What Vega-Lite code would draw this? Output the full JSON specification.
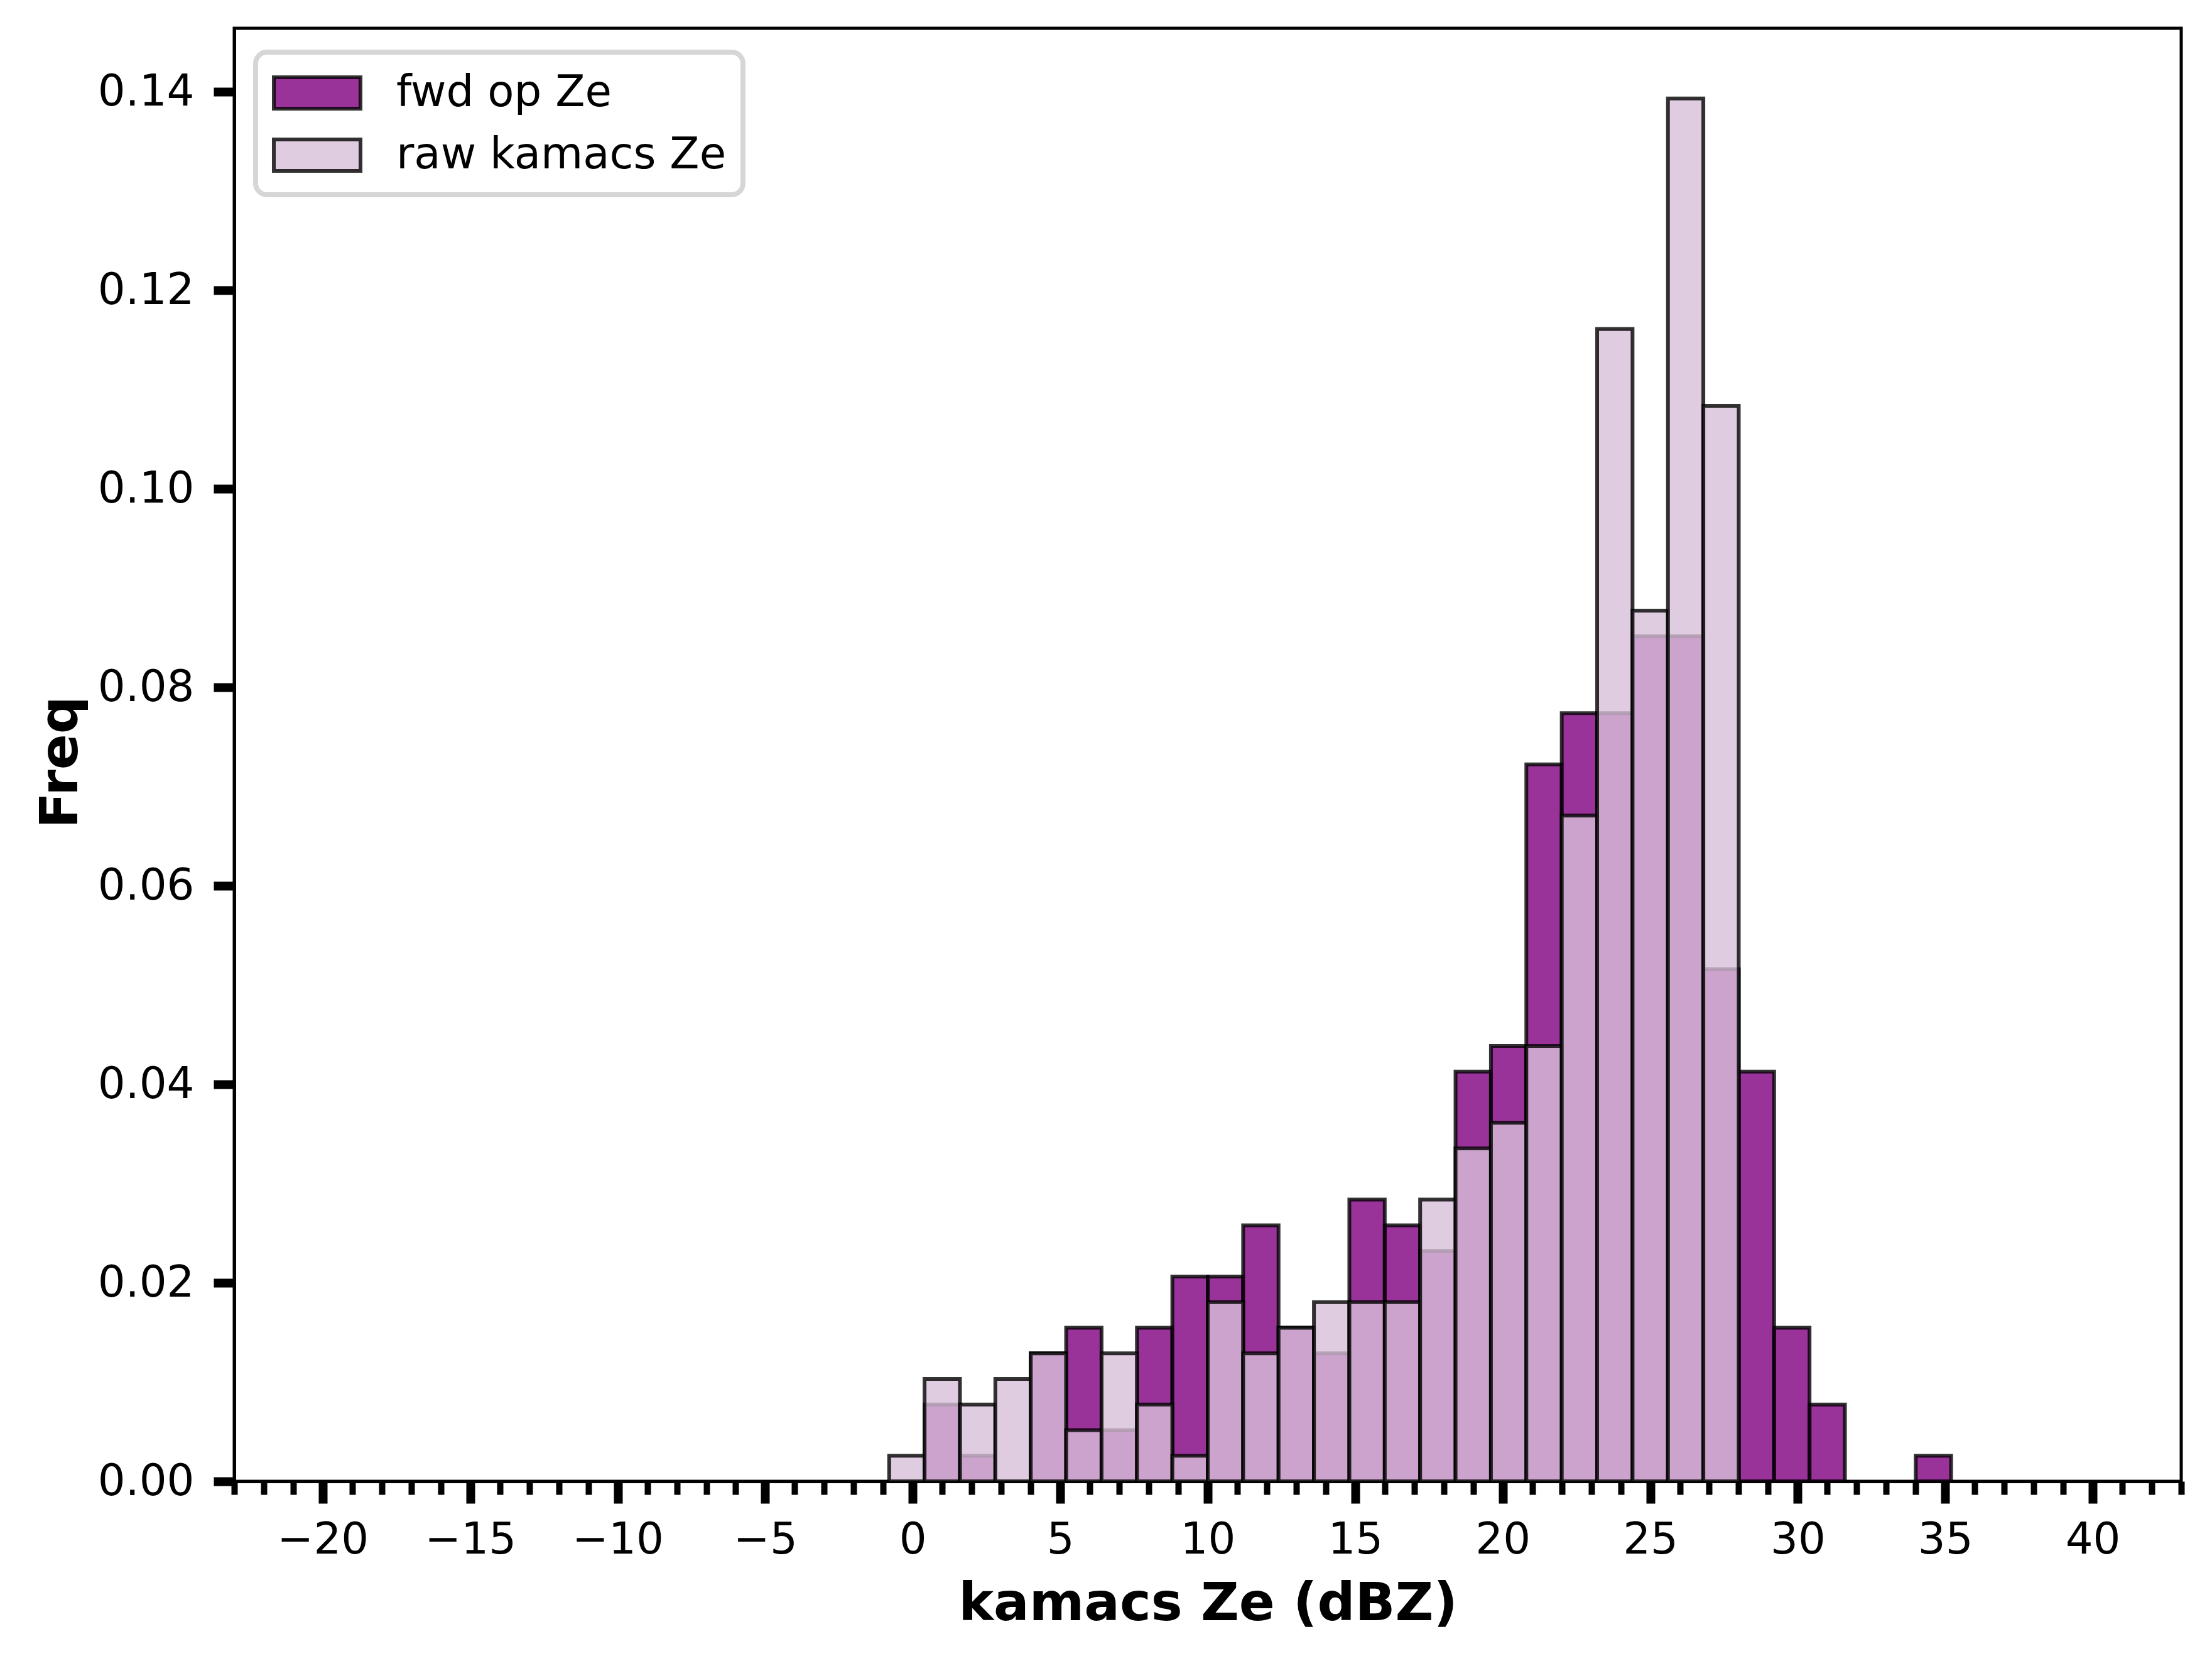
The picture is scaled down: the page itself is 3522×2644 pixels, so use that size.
{
  "$schema": "https://vega.github.io/schema/vega-lite/v6.json",
  "width": 3100,
  "height": 2313,
  "autosize": {"type": "none"},
  "padding": {"left": 373, "top": 45, "right": 49, "bottom": 286},
  "background": "white",
  "data": {
    "values": [
      {"series": "fwd op Ze", "bin_start": 0.4, "bin_end": 1.6, "freq": 0.00774},
      {"series": "fwd op Ze", "bin_start": 1.6, "bin_end": 2.8, "freq": 0.00258},
      {"series": "fwd op Ze", "bin_start": 4.0, "bin_end": 5.2, "freq": 0.0129},
      {"series": "fwd op Ze", "bin_start": 5.2, "bin_end": 6.4, "freq": 0.01548},
      {"series": "fwd op Ze", "bin_start": 6.4, "bin_end": 7.6, "freq": 0.00516},
      {"series": "fwd op Ze", "bin_start": 7.6, "bin_end": 8.8, "freq": 0.01548},
      {"series": "fwd op Ze", "bin_start": 8.8, "bin_end": 10.0, "freq": 0.02064},
      {"series": "fwd op Ze", "bin_start": 10.0, "bin_end": 11.2, "freq": 0.02064},
      {"series": "fwd op Ze", "bin_start": 11.2, "bin_end": 12.4, "freq": 0.0258},
      {"series": "fwd op Ze", "bin_start": 12.4, "bin_end": 13.6, "freq": 0.01548},
      {"series": "fwd op Ze", "bin_start": 13.6, "bin_end": 14.8, "freq": 0.0129},
      {"series": "fwd op Ze", "bin_start": 14.8, "bin_end": 16.0, "freq": 0.02838},
      {"series": "fwd op Ze", "bin_start": 16.0, "bin_end": 17.2, "freq": 0.0258},
      {"series": "fwd op Ze", "bin_start": 17.2, "bin_end": 18.4, "freq": 0.02322},
      {"series": "fwd op Ze", "bin_start": 18.4, "bin_end": 19.6, "freq": 0.04128},
      {"series": "fwd op Ze", "bin_start": 19.6, "bin_end": 20.8, "freq": 0.04386},
      {"series": "fwd op Ze", "bin_start": 20.8, "bin_end": 22.0, "freq": 0.07224},
      {"series": "fwd op Ze", "bin_start": 22.0, "bin_end": 23.2, "freq": 0.0774},
      {"series": "fwd op Ze", "bin_start": 23.2, "bin_end": 24.4, "freq": 0.0774},
      {"series": "fwd op Ze", "bin_start": 24.4, "bin_end": 25.6, "freq": 0.08514},
      {"series": "fwd op Ze", "bin_start": 25.6, "bin_end": 26.8, "freq": 0.08514},
      {"series": "fwd op Ze", "bin_start": 26.8, "bin_end": 28.0, "freq": 0.0516},
      {"series": "fwd op Ze", "bin_start": 28.0, "bin_end": 29.2, "freq": 0.04128},
      {"series": "fwd op Ze", "bin_start": 29.2, "bin_end": 30.4, "freq": 0.01548},
      {"series": "fwd op Ze", "bin_start": 30.4, "bin_end": 31.6, "freq": 0.00774},
      {"series": "fwd op Ze", "bin_start": 34.0, "bin_end": 35.2, "freq": 0.00258},
      {"series": "raw kamacs Ze", "bin_start": -0.8, "bin_end": 0.4, "freq": 0.00258},
      {"series": "raw kamacs Ze", "bin_start": 0.4, "bin_end": 1.6, "freq": 0.01032},
      {"series": "raw kamacs Ze", "bin_start": 1.6, "bin_end": 2.8, "freq": 0.00774},
      {"series": "raw kamacs Ze", "bin_start": 2.8, "bin_end": 4.0, "freq": 0.01032},
      {"series": "raw kamacs Ze", "bin_start": 4.0, "bin_end": 5.2, "freq": 0.0129},
      {"series": "raw kamacs Ze", "bin_start": 5.2, "bin_end": 6.4, "freq": 0.00516},
      {"series": "raw kamacs Ze", "bin_start": 6.4, "bin_end": 7.6, "freq": 0.0129},
      {"series": "raw kamacs Ze", "bin_start": 7.6, "bin_end": 8.8, "freq": 0.00774},
      {"series": "raw kamacs Ze", "bin_start": 8.8, "bin_end": 10.0, "freq": 0.00258},
      {"series": "raw kamacs Ze", "bin_start": 10.0, "bin_end": 11.2, "freq": 0.01806},
      {"series": "raw kamacs Ze", "bin_start": 11.2, "bin_end": 12.4, "freq": 0.0129},
      {"series": "raw kamacs Ze", "bin_start": 12.4, "bin_end": 13.6, "freq": 0.01548},
      {"series": "raw kamacs Ze", "bin_start": 13.6, "bin_end": 14.8, "freq": 0.01806},
      {"series": "raw kamacs Ze", "bin_start": 14.8, "bin_end": 16.0, "freq": 0.01806},
      {"series": "raw kamacs Ze", "bin_start": 16.0, "bin_end": 17.2, "freq": 0.01806},
      {"series": "raw kamacs Ze", "bin_start": 17.2, "bin_end": 18.4, "freq": 0.02838},
      {"series": "raw kamacs Ze", "bin_start": 18.4, "bin_end": 19.6, "freq": 0.03354},
      {"series": "raw kamacs Ze", "bin_start": 19.6, "bin_end": 20.8, "freq": 0.03612},
      {"series": "raw kamacs Ze", "bin_start": 20.8, "bin_end": 22.0, "freq": 0.04386},
      {"series": "raw kamacs Ze", "bin_start": 22.0, "bin_end": 23.2, "freq": 0.06708},
      {"series": "raw kamacs Ze", "bin_start": 23.2, "bin_end": 24.4, "freq": 0.1161},
      {"series": "raw kamacs Ze", "bin_start": 24.4, "bin_end": 25.6, "freq": 0.08772},
      {"series": "raw kamacs Ze", "bin_start": 25.6, "bin_end": 26.8, "freq": 0.13932},
      {"series": "raw kamacs Ze", "bin_start": 26.8, "bin_end": 28.0, "freq": 0.10836}
    ]
  },
  "mark": {"type": "bar", "fillOpacity": 0.8, "stroke": "black", "strokeOpacity": 0.8, "strokeWidth": 6},
  "encoding": {
    "x": {
      "field": "bin_start",
      "type": "quantitative",
      "scale": {"domain": [-23, 43], "nice": false, "zero": false},
      "axis": {
        "title": "kamacs Ze (dBZ)",
        "values": [-23, -22, -21, -20, -19, -18, -17, -16, -15, -14, -13, -12, -11, -10, -9, -8, -7, -6, -5, -4, -3, -2, -1, 0, 1, 2, 3, 4, 5, 6, 7, 8, 9, 10, 11, 12, 13, 14, 15, 16, 17, 18, 19, 20, 21, 22, 23, 24, 25, 26, 27, 28, 29, 30, 31, 32, 33, 34, 35, 36, 37, 38, 39, 40, 41, 42, 43],
        "format": "d",
        "labelExpr": "datum.value % 5 === 0 ? datum.label : ''",
        "tickSize": {"condition": {"test": "datum.value % 5 === 0", "value": 35}, "value": 21},
        "tickWidth": {"condition": {"test": "datum.value % 5 === 0", "value": 14}, "value": 10},
        "tickColor": "black",
        "domainColor": "black",
        "domainWidth": 5,
        "grid": false,
        "labelFont": "DejaVu Sans",
        "labelFontSize": 69,
        "labelColor": "black",
        "labelBaseline": "alphabetic",
        "labelPadding": 79,
        "labelOverlap": false,
        "labelFlush": false,
        "titleFont": "DejaVu Sans",
        "titleFontSize": 84,
        "titleFontWeight": "bold",
        "titleColor": "black",
        "titleBaseline": "alphabetic",
        "titleY": 220
      }
    },
    "x2": {"field": "bin_end"},
    "y": {
      "field": "freq",
      "type": "quantitative",
      "stack": null,
      "scale": {"domain": [0, 0.1464], "nice": false},
      "axis": {
        "title": "Freq",
        "values": [0, 0.02, 0.04, 0.06, 0.08, 0.1, 0.12, 0.14],
        "format": ".2f",
        "tickSize": 33,
        "tickWidth": 14,
        "tickColor": "black",
        "domainColor": "black",
        "domainWidth": 5,
        "grid": false,
        "labelFont": "DejaVu Sans",
        "labelFontSize": 69,
        "labelColor": "black",
        "labelPadding": 31,
        "titleFont": "DejaVu Sans",
        "titleFontSize": 84,
        "titleFontWeight": "bold",
        "titleColor": "black",
        "titleAngle": 270,
        "titleAlign": "center",
        "titleBaseline": "alphabetic",
        "titleX": -251,
        "titleY": 1168
      }
    },
    "y2": {"datum": 0},
    "color": {
      "field": "series",
      "type": "nominal",
      "scale": {"domain": ["fwd op Ze", "raw kamacs Ze"], "range": ["#800080", "#D8BFD8"]},
      "legend": {
        "title": null,
        "orient": "none",
        "legendX": 34,
        "legendY": 38,
        "symbolType": "M-1.917,-0.694H1.917V0.694H-1.917Z",
        "symbolSize": 5184,
        "symbolStrokeColor": "black",
        "symbolStrokeWidth": 6,
        "symbolOffset": 33,
        "labelOffset": 87,
        "labelFont": "DejaVu Sans",
        "labelFontSize": 69,
        "labelColor": "black",
        "labelLimit": 0,
        "rowPadding": 23,
        "padding": 26,
        "strokeColor": "#d6d6d6",
        "cornerRadius": 18,
        "fillColor": "white",
        "encode": {
          "legend": {"update": {"strokeWidth": {"value": 8}}},
          "symbols": {"update": {"fillOpacity": {"value": 0.8}, "strokeOpacity": {"value": 0.8}}}
        }
      }
    }
  },
  "config": {"view": {"stroke": "black", "strokeWidth": 5}, "font": "DejaVu Sans"}
}
